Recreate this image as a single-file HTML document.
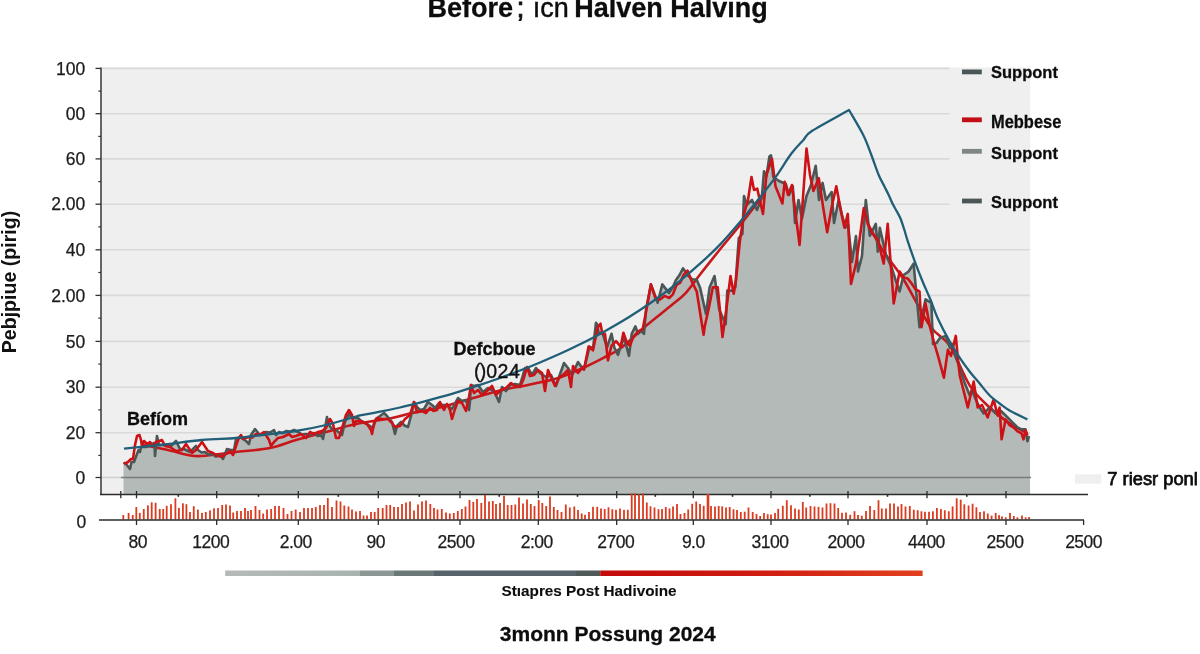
<!DOCTYPE html>
<html><head><meta charset="utf-8"><title>Before Halving</title>
<style>html,body{margin:0;padding:0;background:#fff;overflow:hidden}svg{display:block}</style>
</head><body>
<svg width="1200" height="654" viewBox="0 0 1200 654" font-family='"Liberation Sans", Arial, sans-serif'>
<rect x="0" y="0" width="1200" height="654" fill="#ffffff"/>
<rect x="101.5" y="67.5" width="928.7" height="427" fill="#efefef"/>
<line x1="102" y1="68.4" x2="949.5" y2="68.4" stroke="#d9d9d9" stroke-width="1.6"/>
<line x1="102" y1="113.7" x2="949.5" y2="113.7" stroke="#d9d9d9" stroke-width="1.6"/>
<line x1="102" y1="158.9" x2="949.5" y2="158.9" stroke="#d9d9d9" stroke-width="1.6"/>
<line x1="102" y1="204.2" x2="949.5" y2="204.2" stroke="#d9d9d9" stroke-width="1.6"/>
<line x1="102" y1="249.8" x2="1030" y2="249.8" stroke="#d9d9d9" stroke-width="1.6"/>
<line x1="102" y1="295.4" x2="1030" y2="295.4" stroke="#d9d9d9" stroke-width="1.6"/>
<line x1="102" y1="341.4" x2="1030" y2="341.4" stroke="#d9d9d9" stroke-width="1.6"/>
<line x1="102" y1="387.2" x2="1030" y2="387.2" stroke="#d9d9d9" stroke-width="1.6"/>
<line x1="102" y1="432.7" x2="1030" y2="432.7" stroke="#d9d9d9" stroke-width="1.6"/>
<polygon points="123.5,494.5 123.5,462.5 126.0,464.0 130.0,469.0 131.5,462.0 134.0,462.0 138.5,450.0 140.0,452.0 141.0,447.0 146.0,447.0 150.0,445.0 154.5,443.0 155.0,456.0 157.0,436.0 159.0,445.0 163.0,445.0 167.0,445.0 171.0,446.0 176.0,441.0 180.0,449.0 184.0,449.0 190.0,452.0 196.0,446.0 198.0,450.0 201.5,452.5 205.0,452.0 208.5,454.6 212.0,454.0 216.0,456.6 220.0,455.0 223.0,459.0 227.0,449.0 231.0,450.0 234.0,450.0 236.0,439.0 240.0,437.0 246.0,441.0 249.0,444.0 251.0,435.0 255.0,429.0 259.0,434.0 262.5,434.5 266.0,432.0 270.0,432.6 274.0,430.0 276.0,435.0 279.0,432.0 282.5,433.2 286.0,431.0 290.0,431.6 294.0,430.0 298.0,432.0 302.0,434.6 306.0,434.0 310.0,435.2 314.0,433.0 317.5,435.9 321.0,435.0 323.0,439.0 327.0,417.0 329.0,425.0 332.0,429.0 336.0,430.0 342.0,435.0 345.0,422.0 349.0,414.0 352.0,418.0 358.0,418.0 361.0,421.0 367.0,424.0 373.0,428.0 376.0,419.0 380.0,416.0 384.0,413.0 387.0,416.0 392.0,422.0 395.0,434.0 397.0,426.0 401.0,422.0 404.5,425.5 408.0,427.0 411.0,416.0 414.0,402.0 417.0,407.0 420.0,410.0 424.0,409.0 428.0,402.0 432.0,405.0 435.0,408.0 439.0,403.0 442.0,405.0 447.0,405.0 452.0,409.0 458.0,398.0 462.0,401.0 466.0,400.0 469.0,410.0 470.0,401.0 471.0,385.0 474.0,386.0 478.0,385.0 483.0,392.0 488.0,388.0 494.0,391.0 499.0,402.0 502.0,387.0 506.0,391.0 510.0,385.0 515.0,384.0 520.0,385.0 525.0,368.0 528.0,368.0 532.0,375.0 536.0,368.0 540.0,373.0 546.0,377.0 551.0,375.0 556.0,386.0 559.0,377.0 564.0,363.0 568.0,368.0 572.0,375.0 578.0,362.0 583.0,369.0 584.0,369.5 589.5,346.6 593.0,348.4 596.0,322.8 597.8,325.5 598.7,333.8 602.3,332.0 607.0,347.5 611.5,333.8 614.3,347.5 618.0,354.9 621.6,343.0 624.4,338.3 629.0,355.8 631.7,333.8 635.4,326.4 638.0,333.8 641.0,331.0 644.0,333.8 646.0,309.6 650.9,284.4 657.7,302.7 662.3,284.4 669.0,293.0 672.5,287.8 676.0,280.0 679.5,275.1 683.0,268.3 687.5,275.0 692.1,279.3 696.7,279.8 700.0,287.4 706.0,314.0 709.6,287.4 714.5,276.0 719.3,309.8 725.7,324.3 727.3,290.6 731.3,290.8 735.3,287.4 738.8,238.0 742.4,234.0 744.0,196.0 746.9,204.7 752.0,200.0 757.0,210.0 761.8,197.8 764.0,171.4 766.5,176.0 769.4,156.5 771.0,155.4 773.3,177.0 779.0,181.0 785.9,184.0 789.0,195.0 792.8,186.3 795.0,223.0 798.5,200.0 802.0,218.4 806.5,196.0 811.0,185.0 815.7,165.7 819.0,200.0 822.6,182.9 826.0,200.0 831.7,192.0 834.0,223.0 838.6,200.0 842.0,215.0 845.5,227.6 848.0,224.0 852.0,262.0 856.0,236.0 858.0,271.5 862.0,256.0 865.8,200.0 869.8,235.8 875.8,223.9 877.8,251.7 879.8,227.8 886.0,255.0 891.7,267.6 895.7,280.5 899.6,291.5 903.6,275.0 908.6,271.5 913.6,263.6 919.5,327.2 925.5,299.4 931.4,303.0 932.0,320.0 933.0,343.9 936.5,343.1 940.0,338.0 945.9,335.9 949.9,347.8 951.9,343.9 955.8,357.5 959.8,367.7 964.8,383.3 969.8,395.5 972.0,390.0 975.7,399.5 979.7,407.5 983.7,413.4 989.7,407.5 995.6,413.4 1001.0,411.0 1007.6,417.4 1012.0,422.0 1017.5,427.4 1021.5,429.3 1025.5,429.4 1027.4,441.3 1029.0,436.0 1030.0,440.0 1030.0,494.5" fill="#b4bab8"/>
<line x1="102" y1="477.5" x2="121" y2="477.5" stroke="#d0d0d0" stroke-width="1.6"/>
<line x1="121" y1="477.5" x2="1031" y2="477.5" stroke="#777d7c" stroke-width="1.6"/>
<path d="M143.0,445.0 C147.2,445.8 159.3,448.2 168.0,450.0 C176.7,451.8 186.3,455.3 195.0,456.0 C203.7,456.7 213.2,454.7 220.0,454.0 C226.8,453.3 227.7,453.0 236.0,452.0 C244.3,451.0 260.0,450.0 270.0,448.0 C280.0,446.0 286.7,442.7 296.0,440.0 C305.3,437.3 316.0,434.7 326.0,432.0 C336.0,429.3 345.0,426.3 356.0,424.0 C367.0,421.7 382.7,419.8 392.0,418.0 C401.3,416.2 403.7,414.8 412.0,413.0 C420.3,411.2 427.7,410.7 442.0,407.0 C456.3,403.3 483.7,394.7 498.0,391.0 C512.3,387.3 518.0,387.2 528.0,385.0 C538.0,382.8 548.7,380.9 558.0,378.0 C567.3,375.1 575.8,371.2 584.0,367.5 C592.2,363.8 600.8,359.2 607.0,356.0 C613.2,352.8 614.3,353.2 621.0,348.0 C627.7,342.8 638.7,332.0 647.0,325.0 C655.3,318.0 664.1,311.4 670.6,306.0 C677.1,300.6 680.8,298.3 685.9,292.8 C691.0,287.3 695.6,280.1 701.2,273.0 C706.8,265.9 712.8,258.3 719.5,250.0 C726.2,241.7 734.3,232.3 741.7,223.0 C749.1,213.7 760.3,198.8 764.0,194.0" fill="none" stroke="#c8171b" stroke-width="2.6"/>
<path d="M867.8,223.9 C870.4,228.5 877.7,242.4 883.7,251.7 C889.7,261.0 895.9,267.1 903.6,279.5 C911.3,291.9 922.3,314.9 930.0,326.0 C937.7,337.1 943.3,336.0 949.9,345.9 C956.5,355.8 963.2,375.3 969.8,385.6 C976.4,395.9 983.1,401.2 989.7,407.5 C996.3,413.8 1003.2,419.1 1009.5,423.4 C1015.8,427.7 1024.4,431.6 1027.4,433.3" fill="none" stroke="#c8171b" stroke-width="2.6"/>
<polyline points="123.5,462.5 126.0,464.0 130.0,469.0 131.5,462.0 134.0,462.0 138.5,450.0 140.0,452.0 141.0,447.0 146.0,447.0 150.0,445.0 154.5,443.0 155.0,456.0 157.0,436.0 159.0,445.0 163.0,445.0 167.0,445.0 171.0,446.0 176.0,441.0 180.0,449.0 184.0,449.0 190.0,452.0 196.0,446.0 198.0,450.0 201.5,452.5 205.0,452.0 208.5,454.6 212.0,454.0 216.0,456.6 220.0,455.0 223.0,459.0 227.0,449.0 231.0,450.0 234.0,450.0 236.0,439.0 240.0,437.0 246.0,441.0 249.0,444.0 251.0,435.0 255.0,429.0 259.0,434.0 262.5,434.5 266.0,432.0 270.0,432.6 274.0,430.0 276.0,435.0 279.0,432.0 282.5,433.2 286.0,431.0 290.0,431.6 294.0,430.0 298.0,432.0 302.0,434.6 306.0,434.0 310.0,435.2 314.0,433.0 317.5,435.9 321.0,435.0 323.0,439.0 327.0,417.0 329.0,425.0 332.0,429.0 336.0,430.0 342.0,435.0 345.0,422.0 349.0,414.0 352.0,418.0 358.0,418.0 361.0,421.0 367.0,424.0 373.0,428.0 376.0,419.0 380.0,416.0 384.0,413.0 387.0,416.0 392.0,422.0 395.0,434.0 397.0,426.0 401.0,422.0 404.5,425.5 408.0,427.0 411.0,416.0 414.0,402.0 417.0,407.0 420.0,410.0 424.0,409.0 428.0,402.0 432.0,405.0 435.0,408.0 439.0,403.0 442.0,405.0 447.0,405.0 452.0,409.0 458.0,398.0 462.0,401.0 466.0,400.0 469.0,410.0 470.0,401.0 471.0,385.0 474.0,386.0 478.0,385.0 483.0,392.0 488.0,388.0 494.0,391.0 499.0,402.0 502.0,387.0 506.0,391.0 510.0,385.0 515.0,384.0 520.0,385.0 525.0,368.0 528.0,368.0 532.0,375.0 536.0,368.0 540.0,373.0 546.0,377.0 551.0,375.0 556.0,386.0 559.0,377.0 564.0,363.0 568.0,368.0 572.0,375.0 578.0,362.0 583.0,369.0 584.0,369.5 589.5,346.6 593.0,348.4 596.0,322.8 597.8,325.5 598.7,333.8 602.3,332.0 607.0,347.5 611.5,333.8 614.3,347.5 618.0,354.9 621.6,343.0 624.4,338.3 629.0,355.8 631.7,333.8 635.4,326.4 638.0,333.8 641.0,331.0 644.0,333.8 646.0,309.6 650.9,284.4 657.7,302.7 662.3,284.4 669.0,293.0 672.5,287.8 676.0,280.0 679.5,275.1 683.0,268.3 687.5,275.0 692.1,279.3 696.7,279.8 700.0,287.4 706.0,314.0 709.6,287.4 714.5,276.0 719.3,309.8 725.7,324.3 727.3,290.6 731.3,290.8 735.3,287.4 738.8,238.0 742.4,234.0 744.0,196.0 746.9,204.7 752.0,200.0 757.0,210.0 761.8,197.8 764.0,171.4 766.5,176.0 769.4,156.5 771.0,155.4 773.3,177.0 779.0,181.0 785.9,184.0 789.0,195.0 792.8,186.3 795.0,223.0 798.5,200.0 802.0,218.4 806.5,196.0 811.0,185.0 815.7,165.7 819.0,200.0 822.6,182.9 826.0,200.0 831.7,192.0 834.0,223.0 838.6,200.0 842.0,215.0 845.5,227.6 848.0,224.0 852.0,262.0 856.0,236.0 858.0,271.5 862.0,256.0 865.8,200.0 869.8,235.8 875.8,223.9 877.8,251.7 879.8,227.8 886.0,255.0 891.7,267.6 895.7,280.5 899.6,291.5 903.6,275.0 908.6,271.5 913.6,263.6 919.5,327.2 925.5,299.4 931.4,303.0 932.0,320.0 933.0,343.9 936.5,343.1 940.0,338.0 945.9,335.9 949.9,347.8 951.9,343.9 955.8,357.5 959.8,367.7 964.8,383.3 969.8,395.5 972.0,390.0 975.7,399.5 979.7,407.5 983.7,413.4 989.7,407.5 995.6,413.4 1001.0,411.0 1007.6,417.4 1012.0,422.0 1017.5,427.4 1021.5,429.3 1025.5,429.4 1027.4,441.3 1029.0,436.0" fill="none" stroke="#4b5756" stroke-width="2.6" stroke-linejoin="round"/>
<polyline points="124.0,464.0 128.0,462.0 131.0,459.0 133.0,459.0 135.0,445.0 137.0,436.0 139.5,435.0 141.0,440.0 142.0,446.0 144.0,441.0 147.0,444.0 150.0,442.0 153.0,446.0 156.0,442.0 162.0,440.0 165.0,446.0 170.0,447.0 176.0,451.0 182.0,450.0 186.0,444.0 192.0,453.0 196.0,450.0 202.0,442.0 208.0,451.0 213.0,453.0 218.0,456.0 222.0,456.7 226.0,454.0 230.0,451.0 233.0,455.0 236.0,446.0 238.0,440.0 241.0,435.0 243.0,439.0 249.0,437.0 252.5,437.4 256.0,434.0 260.0,434.9 264.0,432.0 269.0,440.0 271.0,446.0 274.0,442.0 278.0,438.0 283.0,437.0 289.0,434.0 292.0,437.0 296.0,436.0 301.0,434.0 306.0,438.0 310.0,432.0 314.0,434.1 318.0,432.0 322.0,431.0 326.0,428.0 330.0,419.0 333.0,424.0 336.0,438.0 339.0,438.0 342.0,428.0 346.0,415.0 349.0,410.0 352.0,415.0 354.0,426.0 356.0,421.0 361.0,421.0 367.0,424.0 371.0,430.0 372.0,434.0 374.0,423.0 377.0,418.0 382.0,419.0 388.0,419.0 392.0,423.0 395.0,427.0 400.0,426.0 405.0,419.0 410.0,415.0 414.0,402.0 417.0,412.0 422.0,411.0 426.0,413.0 430.0,408.0 433.5,410.9 437.0,410.0 440.0,402.0 444.0,410.0 447.0,404.0 450.0,410.0 452.0,419.0 455.0,409.0 458.0,401.0 462.0,403.0 466.0,411.0 469.0,397.0 471.0,385.0 474.0,393.0 478.0,390.0 482.0,395.0 487.0,391.0 492.0,386.0 496.0,395.0 501.0,390.0 506.0,388.0 511.0,383.0 515.0,386.0 520.0,387.0 523.5,379.1 527.0,367.0 530.0,376.0 534.0,375.0 538.0,370.0 542.0,373.0 545.0,391.0 548.0,370.0 551.0,377.0 555.0,386.0 559.0,378.0 564.0,374.0 568.0,370.0 571.0,387.0 573.0,366.0 578.0,373.0 583.0,367.0 584.0,369.5 588.6,346.6 593.0,350.3 597.8,327.3 600.5,323.7 602.3,333.8 605.0,333.8 607.9,360.4 611.5,345.7 616.0,341.1 620.7,346.6 623.4,332.8 627.0,343.0 629.9,345.7 633.5,336.5 639.0,331.0 642.7,329.2 646.8,307.7 650.9,284.4 655.4,298.0 660.0,299.5 664.6,295.9 669.2,298.0 672.9,294.3 676.5,285.0 680.2,282.6 683.8,274.6 687.5,270.6 692.1,282.2 696.7,291.3 703.6,334.8 704.8,326.0 708.8,308.3 712.8,287.4 717.7,287.4 722.5,337.0 726.5,308.1 730.5,276.0 733.7,293.8 736.0,280.0 740.0,240.0 744.0,214.0 748.0,200.0 751.5,177.0 754.0,190.0 757.2,188.6 763.0,213.9 766.4,174.9 772.0,158.8 775.5,186.3 782.4,203.5 784.7,181.7 788.0,195.0 792.0,185.0 795.8,215.9 799.6,245.0 806.5,148.5 810.0,174.9 813.4,191.0 818.8,178.2 823.0,206.4 827.2,232.2 831.7,207.0 836.3,186.3 841.0,211.6 844.4,227.6 847.8,213.9 851.0,284.0 856.0,263.6 859.9,237.0 863.8,208.0 867.8,223.9 872.8,233.9 877.8,239.8 883.7,263.6 887.7,223.9 893.7,303.4 899.6,271.6 903.6,277.5 907.6,278.4 911.6,283.5 915.5,289.4 919.5,291.5 921.5,327.2 925.5,303.4 930.0,327.0 934.0,342.5 938.0,355.8 943.9,377.7 947.9,349.8 951.0,356.0 955.8,335.9 957.8,357.8 959.8,375.7 965.8,399.5 967.8,407.5 973.7,381.6 977.7,407.5 982.0,405.0 987.7,417.4 993.6,399.5 997.6,415.4 999.6,407.5 1001.6,439.3 1005.6,419.4 1009.5,425.1 1013.5,427.4 1017.5,431.4 1021.5,433.3 1023.5,439.3 1025.5,430.4 1027.4,435.3" fill="none" stroke="#cc1216" stroke-width="2.6" stroke-linejoin="round"/>
<path d="M124.0,448.6 C130.0,448.0 147.1,446.4 160.0,445.0 C172.9,443.6 189.0,441.2 201.7,440.0 C214.4,438.8 225.3,438.9 236.0,438.0 C246.7,437.1 256.0,435.7 266.0,434.5 C276.0,433.3 286.0,432.6 296.0,431.0 C306.0,429.4 316.0,427.4 326.0,425.0 C336.0,422.6 350.3,418.1 356.0,416.5 C361.7,414.9 356.0,416.2 360.0,415.4 C364.0,414.6 373.3,413.0 380.0,411.7 C386.7,410.4 393.3,409.0 400.0,407.5 C406.7,406.0 413.3,404.3 420.0,402.6 C426.7,400.9 433.3,399.1 440.0,397.2 C446.7,395.3 453.3,393.4 460.0,391.3 C466.7,389.2 473.3,387.1 480.0,384.9 C486.7,382.7 493.3,380.4 500.0,378.0 C506.7,375.6 513.3,373.1 520.0,370.5 C526.7,367.9 533.3,365.3 540.0,362.5 C546.7,359.7 553.3,356.8 560.0,353.8 C566.7,350.8 573.3,347.6 580.0,344.3 C586.7,341.0 593.3,337.5 600.0,333.9 C606.7,330.3 613.3,326.6 620.0,322.6 C626.7,318.6 633.3,314.4 640.0,310.0 C646.7,305.6 653.3,301.1 660.0,296.2 C666.7,291.3 673.3,286.2 680.0,280.8 C686.7,275.4 693.3,269.7 700.0,263.7 C706.7,257.7 713.3,251.6 720.0,244.6 C726.7,237.6 733.2,229.9 740.0,221.9 C746.8,213.9 754.6,204.1 760.6,196.6 C766.6,189.1 770.8,183.8 775.9,176.7 C781.0,169.6 786.6,159.9 791.2,153.8 C795.8,147.7 799.9,143.8 803.4,140.0 C806.9,136.2 804.6,135.8 812.2,130.8 C819.8,125.8 842.9,113.5 849.0,110.0  C851.3,114.1 859.3,127.2 863.0,134.5 C866.7,141.8 868.4,147.2 871.0,154.0 C873.6,160.8 876.5,169.7 878.7,175.0 C880.9,180.3 882.5,182.6 884.2,186.0 C885.9,189.4 887.4,192.3 888.8,195.2 C890.2,198.1 891.0,200.7 892.4,203.4 C893.8,206.2 895.6,209.1 897.0,211.7 C898.4,214.3 899.5,215.9 900.7,219.0 C901.9,222.1 903.2,226.3 904.4,230.0 C905.6,233.7 906.0,235.9 907.8,241.4 C909.6,246.9 912.8,256.0 915.3,262.8 C917.8,269.6 920.3,275.9 922.8,282.0 C925.3,288.1 927.8,293.1 930.3,299.2 C932.8,305.3 934.5,311.4 937.8,318.5 C941.1,325.6 946.2,335.3 949.9,341.9 C953.6,348.4 956.5,352.8 959.8,357.8 C963.1,362.8 966.5,367.4 969.8,371.7 C973.1,376.0 976.4,379.6 979.7,383.6 C983.0,387.6 986.4,392.2 989.7,395.5 C993.0,398.8 996.3,401.0 999.6,403.5 C1002.9,406.0 1004.9,407.9 1009.5,410.5 C1014.1,413.1 1024.4,417.9 1027.4,419.4" fill="none" stroke="#215f78" stroke-width="2.3" stroke-linejoin="round"/>
<line x1="101" y1="67.5" x2="101" y2="495" stroke="#333" stroke-width="1.5"/>
<line x1="95.5" y1="68.4" x2="101" y2="68.4" stroke="#333" stroke-width="1.3"/>
<line x1="95.5" y1="113.7" x2="101" y2="113.7" stroke="#333" stroke-width="1.3"/>
<line x1="95.5" y1="158.9" x2="101" y2="158.9" stroke="#333" stroke-width="1.3"/>
<line x1="95.5" y1="204.2" x2="101" y2="204.2" stroke="#333" stroke-width="1.3"/>
<line x1="95.5" y1="249.8" x2="101" y2="249.8" stroke="#333" stroke-width="1.3"/>
<line x1="95.5" y1="295.4" x2="101" y2="295.4" stroke="#333" stroke-width="1.3"/>
<line x1="95.5" y1="341.4" x2="101" y2="341.4" stroke="#333" stroke-width="1.3"/>
<line x1="95.5" y1="387.2" x2="101" y2="387.2" stroke="#333" stroke-width="1.3"/>
<line x1="95.5" y1="432.7" x2="101" y2="432.7" stroke="#333" stroke-width="1.3"/>
<line x1="95.5" y1="477.5" x2="101" y2="477.5" stroke="#333" stroke-width="1.3"/>
<line x1="98.3" y1="91.1" x2="101" y2="91.1" stroke="#333" stroke-width="1.2"/>
<line x1="98.3" y1="136.4" x2="101" y2="136.4" stroke="#333" stroke-width="1.2"/>
<line x1="98.3" y1="181.6" x2="101" y2="181.6" stroke="#333" stroke-width="1.2"/>
<line x1="98.3" y1="226.9" x2="101" y2="226.9" stroke="#333" stroke-width="1.2"/>
<line x1="98.3" y1="272.5" x2="101" y2="272.5" stroke="#333" stroke-width="1.2"/>
<line x1="98.3" y1="318.1" x2="101" y2="318.1" stroke="#333" stroke-width="1.2"/>
<line x1="98.3" y1="364.1" x2="101" y2="364.1" stroke="#333" stroke-width="1.2"/>
<line x1="98.3" y1="409.9" x2="101" y2="409.9" stroke="#333" stroke-width="1.2"/>
<line x1="98.3" y1="455.4" x2="101" y2="455.4" stroke="#333" stroke-width="1.2"/>
<text x="85.3" y="74.5" font-size="17.5" text-anchor="end" fill="#1c1c1c" stroke="#1c1c1c" stroke-width="0.25">100</text>
<text x="85.3" y="119.8" font-size="17.5" text-anchor="end" fill="#1c1c1c" stroke="#1c1c1c" stroke-width="0.25">00</text>
<text x="85.3" y="165.0" font-size="17.5" text-anchor="end" fill="#1c1c1c" stroke="#1c1c1c" stroke-width="0.25">60</text>
<text x="85.3" y="210.3" font-size="17.5" text-anchor="end" fill="#1c1c1c" stroke="#1c1c1c" stroke-width="0.25">2.00</text>
<text x="85.3" y="255.9" font-size="17.5" text-anchor="end" fill="#1c1c1c" stroke="#1c1c1c" stroke-width="0.25">40</text>
<text x="85.3" y="301.5" font-size="17.5" text-anchor="end" fill="#1c1c1c" stroke="#1c1c1c" stroke-width="0.25">2.00</text>
<text x="85.3" y="347.5" font-size="17.5" text-anchor="end" fill="#1c1c1c" stroke="#1c1c1c" stroke-width="0.25">50</text>
<text x="85.3" y="393.3" font-size="17.5" text-anchor="end" fill="#1c1c1c" stroke="#1c1c1c" stroke-width="0.25">30</text>
<text x="85.3" y="438.8" font-size="17.5" text-anchor="end" fill="#1c1c1c" stroke="#1c1c1c" stroke-width="0.25">20</text>
<text x="85.3" y="483.6" font-size="17.5" text-anchor="end" fill="#1c1c1c" stroke="#1c1c1c" stroke-width="0.25">0</text>
<line x1="100" y1="494.5" x2="1088" y2="494.5" stroke="#2b2b2b" stroke-width="1.5"/>
<line x1="120.8" y1="491" x2="120.8" y2="498.3" stroke="#2b2b2b" stroke-width="1.3"/>
<line x1="136.5" y1="491" x2="136.5" y2="498.3" stroke="#2b2b2b" stroke-width="1.3"/>
<line x1="216.7" y1="491" x2="216.7" y2="498.3" stroke="#2b2b2b" stroke-width="1.3"/>
<line x1="298.3" y1="491" x2="298.3" y2="498.3" stroke="#2b2b2b" stroke-width="1.3"/>
<line x1="378.3" y1="491" x2="378.3" y2="498.3" stroke="#2b2b2b" stroke-width="1.3"/>
<line x1="460" y1="491" x2="460" y2="498.3" stroke="#2b2b2b" stroke-width="1.3"/>
<line x1="538.3" y1="491" x2="538.3" y2="498.3" stroke="#2b2b2b" stroke-width="1.3"/>
<line x1="616.7" y1="491" x2="616.7" y2="498.3" stroke="#2b2b2b" stroke-width="1.3"/>
<line x1="693.3" y1="491" x2="693.3" y2="498.3" stroke="#2b2b2b" stroke-width="1.3"/>
<line x1="771" y1="491" x2="771" y2="498.3" stroke="#2b2b2b" stroke-width="1.3"/>
<line x1="848" y1="491" x2="848" y2="498.3" stroke="#2b2b2b" stroke-width="1.3"/>
<line x1="927" y1="491" x2="927" y2="498.3" stroke="#2b2b2b" stroke-width="1.3"/>
<line x1="1006" y1="491" x2="1006" y2="498.3" stroke="#2b2b2b" stroke-width="1.3"/>
<line x1="178.3" y1="494.5" x2="178.3" y2="496.8" stroke="#2b2b2b" stroke-width="1.6"/>
<line x1="258.5" y1="494.5" x2="258.5" y2="496.8" stroke="#2b2b2b" stroke-width="1.6"/>
<line x1="338.3" y1="494.5" x2="338.3" y2="496.8" stroke="#2b2b2b" stroke-width="1.6"/>
<line x1="419.3" y1="494.5" x2="419.3" y2="496.8" stroke="#2b2b2b" stroke-width="1.6"/>
<line x1="499.2" y1="494.5" x2="499.2" y2="496.8" stroke="#2b2b2b" stroke-width="1.6"/>
<line x1="577.5" y1="494.5" x2="577.5" y2="496.8" stroke="#2b2b2b" stroke-width="1.6"/>
<line x1="655.3" y1="494.5" x2="655.3" y2="496.8" stroke="#2b2b2b" stroke-width="1.6"/>
<line x1="732.5" y1="494.5" x2="732.5" y2="496.8" stroke="#2b2b2b" stroke-width="1.6"/>
<line x1="809.8" y1="494.5" x2="809.8" y2="496.8" stroke="#2b2b2b" stroke-width="1.6"/>
<line x1="887.5" y1="494.5" x2="887.5" y2="496.8" stroke="#2b2b2b" stroke-width="1.6"/>
<line x1="966.8" y1="494.5" x2="966.8" y2="496.8" stroke="#2b2b2b" stroke-width="1.6"/>
<rect x="122.40" y="515.0" width="1.8" height="4.5" fill="#db3b1e"/>
<rect x="127.70" y="512.9" width="1.8" height="6.6" fill="#db3b1e"/>
<rect x="131.85" y="515.0" width="1.8" height="4.5" fill="#db3b1e"/>
<rect x="135.40" y="507.0" width="1.8" height="12.5" fill="#db3b1e"/>
<rect x="138.90" y="512.9" width="1.8" height="6.6" fill="#db3b1e"/>
<rect x="142.85" y="509.0" width="1.8" height="10.5" fill="#db3b1e"/>
<rect x="147.00" y="505.4" width="1.8" height="14.1" fill="#db3b1e"/>
<rect x="150.80" y="502.3" width="1.8" height="17.2" fill="#db3b1e"/>
<rect x="154.70" y="502.8" width="1.8" height="16.8" fill="#db3b1e"/>
<rect x="158.85" y="509.0" width="1.8" height="10.5" fill="#db3b1e"/>
<rect x="162.30" y="509.0" width="1.8" height="10.5" fill="#db3b1e"/>
<rect x="165.80" y="505.8" width="1.8" height="13.7" fill="#db3b1e"/>
<rect x="170.10" y="504.2" width="1.8" height="15.3" fill="#db3b1e"/>
<rect x="174.50" y="498.3" width="1.8" height="21.2" fill="#db3b1e"/>
<rect x="178.00" y="507.9" width="1.8" height="11.6" fill="#db3b1e"/>
<rect x="182.00" y="503.3" width="1.8" height="16.2" fill="#db3b1e"/>
<rect x="185.50" y="504.2" width="1.8" height="15.3" fill="#db3b1e"/>
<rect x="189.10" y="512.0" width="1.8" height="7.5" fill="#db3b1e"/>
<rect x="192.85" y="506.2" width="1.8" height="13.2" fill="#db3b1e"/>
<rect x="197.00" y="509.6" width="1.8" height="9.9" fill="#db3b1e"/>
<rect x="201.10" y="512.9" width="1.8" height="6.6" fill="#db3b1e"/>
<rect x="204.90" y="512.0" width="1.8" height="7.5" fill="#db3b1e"/>
<rect x="209.10" y="510.4" width="1.8" height="9.1" fill="#db3b1e"/>
<rect x="213.10" y="508.3" width="1.8" height="11.2" fill="#db3b1e"/>
<rect x="217.10" y="508.0" width="1.8" height="11.5" fill="#db3b1e"/>
<rect x="221.30" y="505.0" width="1.8" height="14.5" fill="#db3b1e"/>
<rect x="225.10" y="504.5" width="1.8" height="15.0" fill="#db3b1e"/>
<rect x="229.10" y="505.5" width="1.8" height="14.0" fill="#db3b1e"/>
<rect x="232.30" y="512.5" width="1.8" height="7.0" fill="#db3b1e"/>
<rect x="236.10" y="511.0" width="1.8" height="8.5" fill="#db3b1e"/>
<rect x="240.10" y="511.0" width="1.8" height="8.5" fill="#db3b1e"/>
<rect x="244.10" y="508.0" width="1.8" height="11.5" fill="#db3b1e"/>
<rect x="247.10" y="511.0" width="1.8" height="8.5" fill="#db3b1e"/>
<rect x="250.10" y="510.0" width="1.8" height="9.5" fill="#db3b1e"/>
<rect x="254.60" y="506.0" width="1.8" height="13.5" fill="#db3b1e"/>
<rect x="258.60" y="510.0" width="1.8" height="9.5" fill="#db3b1e"/>
<rect x="262.30" y="513.5" width="1.8" height="6.0" fill="#db3b1e"/>
<rect x="266.10" y="509.5" width="1.8" height="10.0" fill="#db3b1e"/>
<rect x="270.30" y="509.0" width="1.8" height="10.5" fill="#db3b1e"/>
<rect x="274.10" y="506.0" width="1.8" height="13.5" fill="#db3b1e"/>
<rect x="278.10" y="506.0" width="1.8" height="13.5" fill="#db3b1e"/>
<rect x="282.60" y="508.0" width="1.8" height="11.5" fill="#db3b1e"/>
<rect x="286.60" y="514.0" width="1.8" height="5.5" fill="#db3b1e"/>
<rect x="290.60" y="511.0" width="1.8" height="8.5" fill="#db3b1e"/>
<rect x="294.80" y="509.5" width="1.8" height="10.0" fill="#db3b1e"/>
<rect x="299.10" y="512.0" width="1.8" height="7.5" fill="#db3b1e"/>
<rect x="303.10" y="508.0" width="1.8" height="11.5" fill="#db3b1e"/>
<rect x="307.10" y="508.0" width="1.8" height="11.5" fill="#db3b1e"/>
<rect x="311.10" y="508.0" width="1.8" height="11.5" fill="#db3b1e"/>
<rect x="314.90" y="507.0" width="1.8" height="12.5" fill="#db3b1e"/>
<rect x="319.10" y="505.0" width="1.8" height="14.5" fill="#db3b1e"/>
<rect x="323.10" y="505.0" width="1.8" height="14.5" fill="#db3b1e"/>
<rect x="326.90" y="498.0" width="1.8" height="21.5" fill="#db3b1e"/>
<rect x="331.10" y="507.0" width="1.8" height="12.5" fill="#db3b1e"/>
<rect x="335.60" y="500.5" width="1.8" height="19.0" fill="#db3b1e"/>
<rect x="339.60" y="501.5" width="1.8" height="18.0" fill="#db3b1e"/>
<rect x="343.40" y="505.5" width="1.8" height="14.0" fill="#db3b1e"/>
<rect x="347.60" y="506.5" width="1.8" height="13.0" fill="#db3b1e"/>
<rect x="351.10" y="509.5" width="1.8" height="10.0" fill="#db3b1e"/>
<rect x="355.10" y="511.5" width="1.8" height="8.0" fill="#db3b1e"/>
<rect x="359.10" y="511.0" width="1.8" height="8.5" fill="#db3b1e"/>
<rect x="362.60" y="515.5" width="1.8" height="4.0" fill="#db3b1e"/>
<rect x="366.10" y="515.5" width="1.8" height="4.0" fill="#db3b1e"/>
<rect x="370.10" y="512.0" width="1.8" height="7.5" fill="#db3b1e"/>
<rect x="373.80" y="512.0" width="1.8" height="7.5" fill="#db3b1e"/>
<rect x="377.30" y="508.0" width="1.8" height="11.5" fill="#db3b1e"/>
<rect x="381.80" y="508.0" width="1.8" height="11.5" fill="#db3b1e"/>
<rect x="385.60" y="505.0" width="1.8" height="14.5" fill="#db3b1e"/>
<rect x="389.30" y="505.0" width="1.8" height="14.5" fill="#db3b1e"/>
<rect x="393.10" y="507.0" width="1.8" height="12.5" fill="#db3b1e"/>
<rect x="397.10" y="507.0" width="1.8" height="12.5" fill="#db3b1e"/>
<rect x="401.10" y="504.0" width="1.8" height="15.5" fill="#db3b1e"/>
<rect x="405.10" y="502.5" width="1.8" height="17.0" fill="#db3b1e"/>
<rect x="409.10" y="501.5" width="1.8" height="18.0" fill="#db3b1e"/>
<rect x="413.10" y="510.5" width="1.8" height="9.0" fill="#db3b1e"/>
<rect x="417.10" y="504.5" width="1.8" height="15.0" fill="#db3b1e"/>
<rect x="421.10" y="501.5" width="1.8" height="18.0" fill="#db3b1e"/>
<rect x="425.10" y="500.5" width="1.8" height="19.0" fill="#db3b1e"/>
<rect x="429.40" y="504.0" width="1.8" height="15.5" fill="#db3b1e"/>
<rect x="433.10" y="508.0" width="1.8" height="11.5" fill="#db3b1e"/>
<rect x="436.60" y="509.5" width="1.8" height="10.0" fill="#db3b1e"/>
<rect x="440.90" y="509.0" width="1.8" height="10.5" fill="#db3b1e"/>
<rect x="445.10" y="512.5" width="1.8" height="7.0" fill="#db3b1e"/>
<rect x="448.90" y="513.5" width="1.8" height="6.0" fill="#db3b1e"/>
<rect x="452.90" y="513.0" width="1.8" height="6.5" fill="#db3b1e"/>
<rect x="456.90" y="511.0" width="1.8" height="8.5" fill="#db3b1e"/>
<rect x="460.90" y="509.0" width="1.8" height="10.5" fill="#db3b1e"/>
<rect x="464.60" y="506.5" width="1.8" height="13.0" fill="#db3b1e"/>
<rect x="468.60" y="500.0" width="1.8" height="19.5" fill="#db3b1e"/>
<rect x="472.40" y="502.0" width="1.8" height="17.5" fill="#db3b1e"/>
<rect x="476.10" y="499.0" width="1.8" height="20.5" fill="#db3b1e"/>
<rect x="480.40" y="503.0" width="1.8" height="16.5" fill="#db3b1e"/>
<rect x="484.10" y="495.0" width="1.8" height="24.5" fill="#db3b1e"/>
<rect x="488.10" y="501.5" width="1.8" height="18.0" fill="#db3b1e"/>
<rect x="491.90" y="501.0" width="1.8" height="18.5" fill="#db3b1e"/>
<rect x="495.10" y="504.0" width="1.8" height="15.5" fill="#db3b1e"/>
<rect x="499.10" y="503.0" width="1.8" height="16.5" fill="#db3b1e"/>
<rect x="503.10" y="495.8" width="1.8" height="23.7" fill="#db3b1e"/>
<rect x="506.80" y="505.0" width="1.8" height="14.5" fill="#db3b1e"/>
<rect x="510.60" y="505.0" width="1.8" height="14.5" fill="#db3b1e"/>
<rect x="514.40" y="504.5" width="1.8" height="15.0" fill="#db3b1e"/>
<rect x="518.10" y="497.5" width="1.8" height="22.0" fill="#db3b1e"/>
<rect x="522.10" y="503.5" width="1.8" height="16.0" fill="#db3b1e"/>
<rect x="526.10" y="499.5" width="1.8" height="20.0" fill="#db3b1e"/>
<rect x="529.90" y="504.0" width="1.8" height="15.5" fill="#db3b1e"/>
<rect x="533.60" y="506.0" width="1.8" height="13.5" fill="#db3b1e"/>
<rect x="537.80" y="500.0" width="1.8" height="19.5" fill="#db3b1e"/>
<rect x="541.40" y="503.0" width="1.8" height="16.5" fill="#db3b1e"/>
<rect x="545.30" y="506.0" width="1.8" height="13.5" fill="#db3b1e"/>
<rect x="549.10" y="496.5" width="1.8" height="23.0" fill="#db3b1e"/>
<rect x="552.90" y="507.0" width="1.8" height="12.5" fill="#db3b1e"/>
<rect x="556.60" y="510.0" width="1.8" height="9.5" fill="#db3b1e"/>
<rect x="560.60" y="512.0" width="1.8" height="7.5" fill="#db3b1e"/>
<rect x="564.90" y="504.5" width="1.8" height="15.0" fill="#db3b1e"/>
<rect x="568.90" y="507.5" width="1.8" height="12.0" fill="#db3b1e"/>
<rect x="573.40" y="506.5" width="1.8" height="13.0" fill="#db3b1e"/>
<rect x="577.10" y="510.0" width="1.8" height="9.5" fill="#db3b1e"/>
<rect x="580.80" y="513.5" width="1.8" height="6.0" fill="#db3b1e"/>
<rect x="584.10" y="514.8" width="1.8" height="4.7" fill="#db3b1e"/>
<rect x="588.10" y="512.0" width="1.8" height="7.5" fill="#db3b1e"/>
<rect x="592.10" y="506.8" width="1.8" height="12.7" fill="#db3b1e"/>
<rect x="596.30" y="506.8" width="1.8" height="12.7" fill="#db3b1e"/>
<rect x="600.10" y="508.5" width="1.8" height="11.0" fill="#db3b1e"/>
<rect x="603.80" y="509.0" width="1.8" height="10.5" fill="#db3b1e"/>
<rect x="607.60" y="507.3" width="1.8" height="12.2" fill="#db3b1e"/>
<rect x="611.40" y="509.2" width="1.8" height="10.3" fill="#db3b1e"/>
<rect x="615.10" y="509.8" width="1.8" height="9.7" fill="#db3b1e"/>
<rect x="619.10" y="508.5" width="1.8" height="11.0" fill="#db3b1e"/>
<rect x="623.10" y="509.8" width="1.8" height="9.7" fill="#db3b1e"/>
<rect x="626.90" y="509.8" width="1.8" height="9.7" fill="#db3b1e"/>
<rect x="630.80" y="493.5" width="1.8" height="26.0" fill="#db3b1e"/>
<rect x="634.10" y="493.5" width="1.8" height="26.0" fill="#db3b1e"/>
<rect x="638.10" y="494.2" width="1.8" height="25.3" fill="#db3b1e"/>
<rect x="642.10" y="493.5" width="1.8" height="26.0" fill="#db3b1e"/>
<rect x="645.90" y="502.5" width="1.8" height="17.0" fill="#db3b1e"/>
<rect x="649.60" y="506.3" width="1.8" height="13.2" fill="#db3b1e"/>
<rect x="653.60" y="507.5" width="1.8" height="12.0" fill="#db3b1e"/>
<rect x="657.60" y="509.2" width="1.8" height="10.3" fill="#db3b1e"/>
<rect x="661.10" y="509.0" width="1.8" height="10.5" fill="#db3b1e"/>
<rect x="664.90" y="507.0" width="1.8" height="12.5" fill="#db3b1e"/>
<rect x="668.60" y="508.5" width="1.8" height="11.0" fill="#db3b1e"/>
<rect x="672.10" y="506.5" width="1.8" height="13.0" fill="#db3b1e"/>
<rect x="676.10" y="504.0" width="1.8" height="15.5" fill="#db3b1e"/>
<rect x="679.60" y="514.0" width="1.8" height="5.5" fill="#db3b1e"/>
<rect x="683.60" y="513.0" width="1.8" height="6.5" fill="#db3b1e"/>
<rect x="687.30" y="509.5" width="1.8" height="10.0" fill="#db3b1e"/>
<rect x="691.30" y="503.8" width="1.8" height="15.7" fill="#db3b1e"/>
<rect x="695.30" y="501.5" width="1.8" height="18.0" fill="#db3b1e"/>
<rect x="699.10" y="504.0" width="1.8" height="15.5" fill="#db3b1e"/>
<rect x="702.80" y="505.8" width="1.8" height="13.7" fill="#db3b1e"/>
<rect x="706.70" y="494.0" width="2.6" height="25.5" fill="#db3b1e"/>
<rect x="710.10" y="506.0" width="1.8" height="13.5" fill="#db3b1e"/>
<rect x="714.10" y="506.5" width="1.8" height="13.0" fill="#db3b1e"/>
<rect x="717.80" y="506.0" width="1.8" height="13.5" fill="#db3b1e"/>
<rect x="721.30" y="506.3" width="1.8" height="13.2" fill="#db3b1e"/>
<rect x="725.10" y="507.5" width="1.8" height="12.0" fill="#db3b1e"/>
<rect x="728.80" y="507.0" width="1.8" height="12.5" fill="#db3b1e"/>
<rect x="732.60" y="509.3" width="1.8" height="10.2" fill="#db3b1e"/>
<rect x="736.10" y="510.0" width="1.8" height="9.5" fill="#db3b1e"/>
<rect x="739.90" y="512.0" width="1.8" height="7.5" fill="#db3b1e"/>
<rect x="743.80" y="511.7" width="1.8" height="7.8" fill="#db3b1e"/>
<rect x="747.60" y="507.5" width="1.8" height="12.0" fill="#db3b1e"/>
<rect x="751.80" y="512.0" width="1.8" height="7.5" fill="#db3b1e"/>
<rect x="755.60" y="514.0" width="1.8" height="5.5" fill="#db3b1e"/>
<rect x="759.30" y="516.0" width="1.8" height="3.5" fill="#db3b1e"/>
<rect x="763.10" y="513.0" width="1.8" height="6.5" fill="#db3b1e"/>
<rect x="766.80" y="514.2" width="1.8" height="5.3" fill="#db3b1e"/>
<rect x="770.10" y="514.5" width="1.8" height="5.0" fill="#db3b1e"/>
<rect x="774.10" y="513.0" width="1.8" height="6.5" fill="#db3b1e"/>
<rect x="777.30" y="508.8" width="1.8" height="10.7" fill="#db3b1e"/>
<rect x="781.90" y="505.8" width="1.8" height="13.7" fill="#db3b1e"/>
<rect x="785.90" y="500.2" width="1.8" height="19.3" fill="#db3b1e"/>
<rect x="790.10" y="505.2" width="1.8" height="14.3" fill="#db3b1e"/>
<rect x="794.10" y="508.5" width="1.8" height="11.0" fill="#db3b1e"/>
<rect x="797.90" y="509.5" width="1.8" height="10.0" fill="#db3b1e"/>
<rect x="801.90" y="502.0" width="1.8" height="17.5" fill="#db3b1e"/>
<rect x="805.30" y="507.5" width="1.8" height="12.0" fill="#db3b1e"/>
<rect x="809.60" y="506.0" width="1.8" height="13.5" fill="#db3b1e"/>
<rect x="813.60" y="506.5" width="1.8" height="13.0" fill="#db3b1e"/>
<rect x="817.60" y="506.8" width="1.8" height="12.7" fill="#db3b1e"/>
<rect x="821.60" y="507.5" width="1.8" height="12.0" fill="#db3b1e"/>
<rect x="825.60" y="503.5" width="1.8" height="16.0" fill="#db3b1e"/>
<rect x="829.60" y="503.2" width="1.8" height="16.3" fill="#db3b1e"/>
<rect x="833.60" y="503.5" width="1.8" height="16.0" fill="#db3b1e"/>
<rect x="837.30" y="508.0" width="1.8" height="11.5" fill="#db3b1e"/>
<rect x="841.10" y="512.8" width="1.8" height="6.7" fill="#db3b1e"/>
<rect x="845.10" y="512.5" width="1.8" height="7.0" fill="#db3b1e"/>
<rect x="849.30" y="514.8" width="1.8" height="4.7" fill="#db3b1e"/>
<rect x="853.60" y="511.2" width="1.8" height="8.3" fill="#db3b1e"/>
<rect x="857.10" y="515.0" width="1.8" height="4.5" fill="#db3b1e"/>
<rect x="860.90" y="515.8" width="1.8" height="3.7" fill="#db3b1e"/>
<rect x="865.10" y="511.0" width="1.8" height="8.5" fill="#db3b1e"/>
<rect x="869.10" y="506.0" width="1.8" height="13.5" fill="#db3b1e"/>
<rect x="873.40" y="510.0" width="1.8" height="9.5" fill="#db3b1e"/>
<rect x="877.60" y="500.2" width="1.8" height="19.3" fill="#db3b1e"/>
<rect x="880.90" y="508.5" width="1.8" height="11.0" fill="#db3b1e"/>
<rect x="885.10" y="508.5" width="1.8" height="11.0" fill="#db3b1e"/>
<rect x="889.10" y="503.5" width="1.8" height="16.0" fill="#db3b1e"/>
<rect x="893.10" y="503.5" width="1.8" height="16.0" fill="#db3b1e"/>
<rect x="897.10" y="506.5" width="1.8" height="13.0" fill="#db3b1e"/>
<rect x="900.60" y="504.0" width="1.8" height="15.5" fill="#db3b1e"/>
<rect x="904.60" y="506.5" width="1.8" height="13.0" fill="#db3b1e"/>
<rect x="908.90" y="506.0" width="1.8" height="13.5" fill="#db3b1e"/>
<rect x="912.90" y="509.7" width="1.8" height="9.8" fill="#db3b1e"/>
<rect x="916.80" y="510.2" width="1.8" height="9.3" fill="#db3b1e"/>
<rect x="920.50" y="511.3" width="1.8" height="8.2" fill="#db3b1e"/>
<rect x="924.10" y="511.8" width="1.8" height="7.7" fill="#db3b1e"/>
<rect x="928.10" y="511.8" width="1.8" height="7.7" fill="#db3b1e"/>
<rect x="932.00" y="511.3" width="1.8" height="8.2" fill="#db3b1e"/>
<rect x="936.00" y="508.0" width="1.8" height="11.5" fill="#db3b1e"/>
<rect x="940.00" y="509.1" width="1.8" height="10.4" fill="#db3b1e"/>
<rect x="943.90" y="510.2" width="1.8" height="9.3" fill="#db3b1e"/>
<rect x="947.90" y="511.3" width="1.8" height="8.2" fill="#db3b1e"/>
<rect x="951.70" y="506.4" width="1.8" height="13.1" fill="#db3b1e"/>
<rect x="955.80" y="498.3" width="1.8" height="21.2" fill="#db3b1e"/>
<rect x="959.80" y="499.7" width="1.8" height="19.8" fill="#db3b1e"/>
<rect x="963.40" y="504.3" width="1.8" height="15.2" fill="#db3b1e"/>
<rect x="967.70" y="505.5" width="1.8" height="14.0" fill="#db3b1e"/>
<rect x="971.70" y="503.7" width="1.8" height="15.8" fill="#db3b1e"/>
<rect x="975.50" y="507.3" width="1.8" height="12.2" fill="#db3b1e"/>
<rect x="979.10" y="512.0" width="1.8" height="7.5" fill="#db3b1e"/>
<rect x="983.10" y="511.3" width="1.8" height="8.2" fill="#db3b1e"/>
<rect x="986.90" y="513.5" width="1.8" height="6.0" fill="#db3b1e"/>
<rect x="990.70" y="515.6" width="1.8" height="3.9" fill="#db3b1e"/>
<rect x="994.80" y="512.9" width="1.8" height="6.6" fill="#db3b1e"/>
<rect x="998.10" y="515.1" width="1.8" height="4.4" fill="#db3b1e"/>
<rect x="1001.10" y="516.4" width="1.8" height="3.1" fill="#db3b1e"/>
<rect x="1004.80" y="517.3" width="1.8" height="2.2" fill="#db3b1e"/>
<rect x="1009.10" y="512.9" width="1.8" height="6.6" fill="#db3b1e"/>
<rect x="1012.90" y="516.0" width="1.8" height="3.5" fill="#db3b1e"/>
<rect x="1016.50" y="517.3" width="1.8" height="2.2" fill="#db3b1e"/>
<rect x="1021.10" y="515.6" width="1.8" height="3.9" fill="#db3b1e"/>
<rect x="1024.80" y="517.3" width="1.8" height="2.2" fill="#db3b1e"/>
<rect x="1028.10" y="517.0" width="1.8" height="2.5" fill="#db3b1e"/>
<line x1="99" y1="520" x2="1084" y2="520" stroke="#2b2b2b" stroke-width="1.5"/>
<line x1="136.5" y1="520" x2="136.5" y2="525" stroke="#2b2b2b" stroke-width="1.3"/>
<line x1="216.7" y1="520" x2="216.7" y2="525" stroke="#2b2b2b" stroke-width="1.3"/>
<line x1="298.3" y1="520" x2="298.3" y2="525" stroke="#2b2b2b" stroke-width="1.3"/>
<line x1="378.3" y1="520" x2="378.3" y2="525" stroke="#2b2b2b" stroke-width="1.3"/>
<line x1="460" y1="520" x2="460" y2="525" stroke="#2b2b2b" stroke-width="1.3"/>
<line x1="538.3" y1="520" x2="538.3" y2="525" stroke="#2b2b2b" stroke-width="1.3"/>
<line x1="616.7" y1="520" x2="616.7" y2="525" stroke="#2b2b2b" stroke-width="1.3"/>
<line x1="693.3" y1="520" x2="693.3" y2="525" stroke="#2b2b2b" stroke-width="1.3"/>
<line x1="771" y1="520" x2="771" y2="525" stroke="#2b2b2b" stroke-width="1.3"/>
<line x1="848" y1="520" x2="848" y2="525" stroke="#2b2b2b" stroke-width="1.3"/>
<line x1="927" y1="520" x2="927" y2="525" stroke="#2b2b2b" stroke-width="1.3"/>
<line x1="1006" y1="520" x2="1006" y2="525" stroke="#2b2b2b" stroke-width="1.3"/>
<line x1="1083.6" y1="520" x2="1083.6" y2="525" stroke="#2b2b2b" stroke-width="1.3"/>
<text x="86.2" y="527.8" font-size="17.5" text-anchor="end" fill="#1c1c1c" stroke="#1c1c1c" stroke-width="0.25">0</text>
<text x="137.7" y="547.5" font-size="17.5" letter-spacing="-0.5" text-anchor="middle" fill="#1c1c1c" stroke="#1c1c1c" stroke-width="0.25">80</text>
<text x="210.7" y="547.5" font-size="17.5" letter-spacing="-0.5" text-anchor="middle" fill="#1c1c1c" stroke="#1c1c1c" stroke-width="0.25">1200</text>
<text x="295.7" y="547.5" font-size="17.5" letter-spacing="-0.5" text-anchor="middle" fill="#1c1c1c" stroke="#1c1c1c" stroke-width="0.25">2.00</text>
<text x="375.7" y="547.5" font-size="17.5" letter-spacing="-0.5" text-anchor="middle" fill="#1c1c1c" stroke="#1c1c1c" stroke-width="0.25">90</text>
<text x="456" y="547.5" font-size="17.5" letter-spacing="-0.5" text-anchor="middle" fill="#1c1c1c" stroke="#1c1c1c" stroke-width="0.25">2500</text>
<text x="536.7" y="547.5" font-size="17.5" letter-spacing="-0.5" text-anchor="middle" fill="#1c1c1c" stroke="#1c1c1c" stroke-width="0.25">2:00</text>
<text x="615.7" y="547.5" font-size="17.5" letter-spacing="-0.5" text-anchor="middle" fill="#1c1c1c" stroke="#1c1c1c" stroke-width="0.25">2700</text>
<text x="693.3" y="547.5" font-size="17.5" letter-spacing="-0.5" text-anchor="middle" fill="#1c1c1c" stroke="#1c1c1c" stroke-width="0.25">9.0</text>
<text x="770" y="547.5" font-size="17.5" letter-spacing="-0.5" text-anchor="middle" fill="#1c1c1c" stroke="#1c1c1c" stroke-width="0.25">3100</text>
<text x="846" y="547.5" font-size="17.5" letter-spacing="-0.5" text-anchor="middle" fill="#1c1c1c" stroke="#1c1c1c" stroke-width="0.25">2000</text>
<text x="926.4" y="547.5" font-size="17.5" letter-spacing="-0.5" text-anchor="middle" fill="#1c1c1c" stroke="#1c1c1c" stroke-width="0.25">4400</text>
<text x="1005" y="547.5" font-size="17.5" letter-spacing="-0.5" text-anchor="middle" fill="#1c1c1c" stroke="#1c1c1c" stroke-width="0.25">2500</text>
<text x="1083.6" y="547.5" font-size="17.5" letter-spacing="-0.5" text-anchor="middle" fill="#1c1c1c" stroke="#1c1c1c" stroke-width="0.25">2500</text>
<text x="127" y="425.3" font-size="18" font-weight="bold" fill="#0d0d0d" stroke="#0d0d0d" stroke-width="0.3">Befíom</text>
<text x="453.4" y="354.8" font-size="18" font-weight="bold" fill="#0d0d0d" stroke="#0d0d0d" stroke-width="0.3">Defcboue</text>
<text y="377.8" font-size="19.5" fill="#111" stroke="#111" stroke-width="0.35"><tspan x="474">(</tspan><tspan x="479.8">)</tspan><tspan x="486.2" letter-spacing="0.5">024</tspan></text>
<rect x="962" y="69.5" width="19.8" height="4.8" fill="#4b5756"/>
<text x="991" y="78.4" font-size="16.5" font-weight="bold" fill="#0d0d0d" stroke="#0d0d0d" stroke-width="0.3">Suppont</text>
<rect x="962" y="117.4" width="19.8" height="4.8" fill="#c20f17"/>
<text x="991" y="127.6" font-size="18.2" font-weight="bold" fill="#0d0d0d" stroke="#0d0d0d" stroke-width="0.3" textLength="70.3" lengthAdjust="spacingAndGlyphs">Mebbese</text>
<rect x="962" y="148.9" width="19.8" height="4.8" fill="#7f8784"/>
<text x="991" y="159" font-size="16.5" font-weight="bold" fill="#0d0d0d" stroke="#0d0d0d" stroke-width="0.3">Suppont</text>
<rect x="962" y="198.6" width="19.8" height="4.8" fill="#4b5756"/>
<text x="991" y="208" font-size="16.5" font-weight="bold" fill="#0d0d0d" stroke="#0d0d0d" stroke-width="0.3">Suppont</text>
<rect x="1075" y="474.3" width="26.3" height="9.4" fill="#efefef"/>
<text x="1107.3" y="485" font-size="17.5" fill="#0d0d0d" stroke="#0d0d0d" stroke-width="0.75" textLength="90.5" lengthAdjust="spacingAndGlyphs">7 riesr ponl</text>
<text transform="translate(16,282) rotate(-90)" font-size="19.6" font-weight="bold" text-anchor="middle" fill="#111">Pebjpiue (pirig)</text>
<text y="16.5" font-size="27" font-weight="bold" fill="#0d0d0d" stroke="#0d0d0d" stroke-width="0.3"><tspan x="427.5">Before</tspan><tspan x="516.8" font-weight="normal" stroke-width="0.9">;</tspan><tspan x="532.8" font-weight="normal" stroke-width="0.45">ıcn</tspan><tspan x="574.3">Halven Halvıng</tspan></text>
<defs><linearGradient id="g1" x1="0" x2="1" y1="0" y2="0"><stop offset="0" stop-color="#b5bab7"/><stop offset="1" stop-color="#a8b3b0"/></linearGradient><linearGradient id="rg" x1="0" x2="1" y1="0" y2="0"><stop offset="0" stop-color="#c20b0b"/><stop offset="0.5" stop-color="#cf1d12"/><stop offset="1" stop-color="#e1401f"/></linearGradient></defs>
<rect x="225.2" y="570.5" width="134.8" height="5.5" fill="url(#g1)"/>
<rect x="360" y="570.5" width="34.0" height="5.5" fill="#8d9795"/>
<rect x="394" y="570.5" width="40.0" height="5.5" fill="#6b7878"/>
<rect x="434" y="570.5" width="142.0" height="5.5" fill="#56636a"/>
<rect x="576" y="570.5" width="24.2" height="5.5" fill="#4f5a58"/>
<rect x="600.2" y="570.5" width="322.4" height="5.5" fill="url(#rg)"/>
<text x="501.5" y="596.2" font-size="15.3" font-weight="bold" fill="#0d0d0d" stroke="#0d0d0d" stroke-width="0.1">Stıapres Post Hadivoine</text>
<text x="499.8" y="640.8" font-size="21" font-weight="bold" fill="#0d0d0d" stroke="#0d0d0d" stroke-width="0.3">3monn Possung 2024</text>
</svg>
</body></html>
